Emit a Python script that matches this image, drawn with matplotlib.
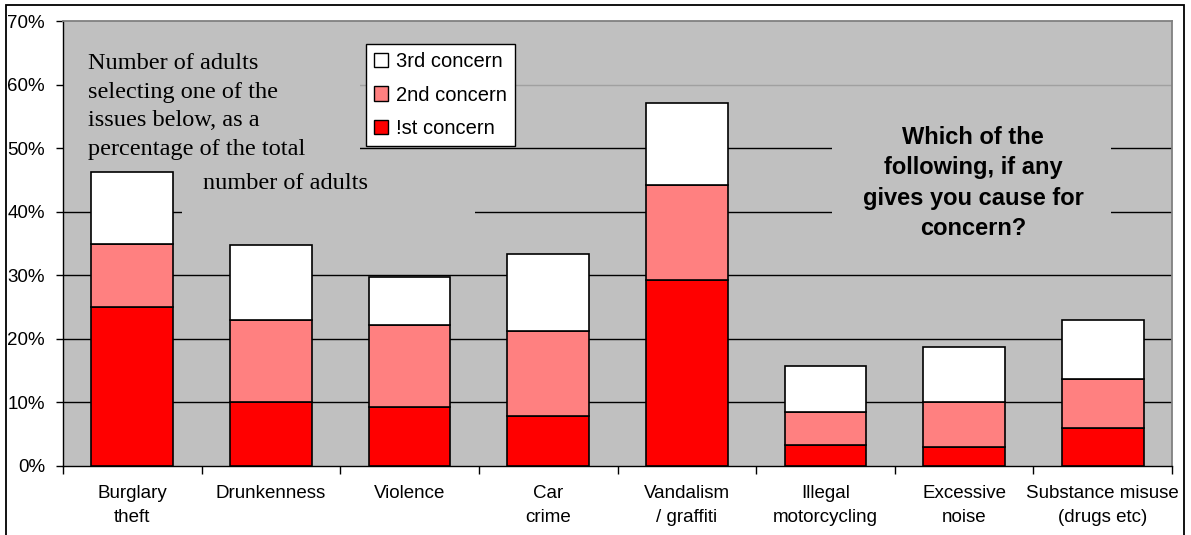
import numpy as np
import matplotlib.pyplot as plt
from matplotlib.patches import Rectangle, Patch

# data (percent of adults)
categories = ['Burglary\ntheft', 'Drunkenness', 'Violence', 'Car\ncrime',
              'Vandalism\n/ graffiti', 'Illegal\nmotorcycling', 'Excessive\nnoise',
              'Substance misuse\n(drugs etc)']
first = [25.0, 10.0, 9.3, 7.9, 29.3, 3.3, 3.0, 5.9]
second = [9.9, 13.0, 12.9, 13.4, 14.9, 5.2, 7.0, 7.8]
third = [11.4, 11.7, 7.6, 12.0, 12.9, 7.3, 8.7, 9.3]
series_names = ['!st concern', '2nd concern', '3rd concern']
series_colors = ['#ff0000', '#ff8080', '#ffffff']
yticks = [0, 10, 20, 30, 40, 50, 60, 70]

W, H = 1191, 535
fig = plt.figure(figsize=(W / 100, H / 100), dpi=100)
plt.rcParams['font.family'] = ['Liberation Sans', 'DejaVu Sans']


def fx(px):
    return px / W


def fy(py):
    return 1 - py / H


# outer chart border
fig.patches.append(Rectangle((fx(6), fy(540)), fx(1184) - fx(6), fy(5) - fy(540),
                             transform=fig.transFigure, fill=False,
                             edgecolor='black', linewidth=1.3))

ax = fig.add_axes([fx(63), fy(466), fx(1172) - fx(63), fy(21) - fy(466)])
ax.set_facecolor('#c0c0c0')

x = np.arange(len(categories))
bottom = np.zeros(len(categories))
for vals, name, col in zip([first, second, third], series_names, series_colors):
    ax.bar(x, vals, width=0.59, bottom=bottom, color=col, edgecolor='black',
           linewidth=1.2, zorder=3, label=name)
    bottom += np.array(vals)

ax.set_xlim(-0.5, len(categories) - 0.5)
ax.set_ylim(0, 70)

# gridlines
ax.set_yticks(yticks)
ax.set_yticklabels([f'{v}%' for v in yticks], fontsize=13.5)
for v in yticks[1:-1]:
    ax.axhline(v, color='#a0a0a0' if v == 60 else 'black', linewidth=1, zorder=1)

ax.set_xticks(np.arange(-0.5, len(categories), 1))
ax.set_xticklabels([])
ax.set_xticks(x, minor=True)
ax.set_xticklabels(categories, minor=True, fontsize=13.5, linespacing=1.5)
ax.tick_params(axis='x', which='major', direction='out', length=6, width=1)
ax.tick_params(axis='x', which='minor', length=0, pad=14)
ax.tick_params(axis='y', direction='out', length=5, width=1, pad=8)

for s in ['top', 'right']:
    ax.spines[s].set_color('#808080')
    ax.spines[s].set_linewidth(1.3)
for s in ['left', 'bottom']:
    ax.spines[s].set_color('black')
    ax.spines[s].set_linewidth(1)


# text boxes hiding the gridlines behind them
def mask(x0, y0, x1, y1):
    ax.add_patch(Rectangle((fx(x0), fy(y1)), fx(x1) - fx(x0), fy(y0) - fy(y1),
                           transform=fig.transFigure, facecolor='#c0c0c0',
                           edgecolor='none', zorder=2, clip_on=False))


mask(64, 40, 360, 165)
mask(182, 168, 475, 225)
mask(832, 118, 1111, 245)

ax.text(fx(88), fy(155), 'Number of adults\nselecting one of the\nissues below, as a\npercentage of the total',
        transform=fig.transFigure, family=['Liberation Serif', 'DejaVu Serif'],
        fontsize=17.5, ha='left', va='baseline', linespacing=1.47, zorder=4)
ax.text(fx(203), fy(189), 'number of adults', transform=fig.transFigure,
        family=['Liberation Serif', 'DejaVu Serif'], fontsize=17.5,
        ha='left', va='baseline', zorder=4)
ax.text(fx(973), fy(183), 'Which of the\nfollowing, if any\ngives you cause for\nconcern?',
        transform=fig.transFigure, fontsize=17, fontweight='bold',
        ha='center', va='center', linespacing=1.4, zorder=4)

handles = [Patch(facecolor=c, edgecolor='black', linewidth=1) for c in series_colors]
leg = ax.legend(handles[::-1], series_names[::-1], loc='upper left',
                bbox_to_anchor=(fx(366), fy(44)), bbox_transform=fig.transFigure,
                borderaxespad=0, fontsize=14.5, frameon=True, fancybox=False,
                edgecolor='black', framealpha=1, handlelength=0.7, handleheight=0.7,
                handletextpad=0.4, labelspacing=0.72, borderpad=0.4)
leg.get_frame().set_linewidth(1)

fig.savefig('out.png', dpi=100)
